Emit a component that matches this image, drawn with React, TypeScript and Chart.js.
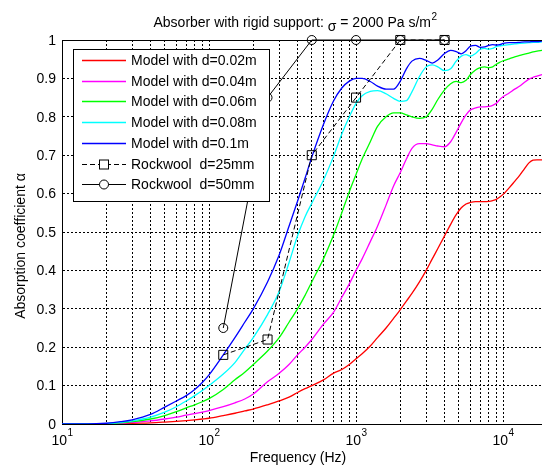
import { useEffect, useRef } from "react";
import { Chart, registerables } from "chart.js";

Chart.register(...registerables);

// ---------- data ----------
const frequencies = [
  10, 12, 15, 20, 25, 30, 40, 50, 60, 70,
  80, 90, 100, 125, 150, 175, 200, 250, 300, 350,
  400, 450, 500, 600, 700, 800, 900, 1000, 1100, 1250,
  1400, 1600, 1800, 2000, 2200, 2400, 2700, 3000, 3300, 3600,
  4000, 4400, 4800, 5200, 5600, 6000, 6500, 7000, 7500, 8000,
  8500, 9000, 9500, 10000, 11000, 12000, 13000, 14000, 15000, 16000,
  17000, 18400,
];

const modelD002 = [
  0, 0, 0, 0, 0.001, 0.002, 0.003, 0.005, 0.007, 0.009,
  0.011, 0.013, 0.015, 0.022, 0.028, 0.034, 0.039, 0.05, 0.06, 0.07,
  0.082, 0.092, 0.1, 0.115, 0.132, 0.142, 0.155, 0.17, 0.183, 0.203,
  0.225, 0.25, 0.275, 0.298, 0.32, 0.34, 0.37, 0.4, 0.43, 0.457,
  0.49, 0.52, 0.545, 0.563, 0.573, 0.577, 0.579, 0.579, 0.579, 0.58,
  0.582, 0.585, 0.591, 0.598, 0.615, 0.632, 0.648, 0.665, 0.68, 0.687,
  0.688, 0.688,
];

const modelD004 = [
  0, 0, 0, 0, 0.002, 0.004, 0.008, 0.013, 0.018, 0.023,
  0.027, 0.031, 0.035, 0.045, 0.055, 0.065, 0.078, 0.11, 0.132, 0.155,
  0.18, 0.2, 0.22, 0.26, 0.29, 0.33, 0.365, 0.4, 0.43, 0.475,
  0.515, 0.57, 0.62, 0.655, 0.69, 0.718, 0.73, 0.73, 0.727, 0.724,
  0.722, 0.735, 0.76, 0.785, 0.805, 0.818, 0.823, 0.826, 0.826, 0.827,
  0.83, 0.835, 0.845, 0.852, 0.862, 0.872, 0.88, 0.89, 0.898, 0.903,
  0.906, 0.91,
];

const modelD006 = [
  0, 0, 0, 0.001, 0.003, 0.006, 0.013, 0.022, 0.032, 0.042,
  0.05, 0.058, 0.066, 0.09, 0.115, 0.135, 0.155, 0.19, 0.225, 0.265,
  0.3, 0.335, 0.37, 0.43, 0.49, 0.55, 0.605, 0.65, 0.69, 0.735,
  0.775, 0.8, 0.81, 0.81, 0.805, 0.8, 0.796, 0.8, 0.82, 0.845,
  0.87, 0.886, 0.892, 0.889, 0.895, 0.91, 0.922, 0.928, 0.93, 0.928,
  0.93, 0.937, 0.942, 0.946, 0.951, 0.956, 0.96, 0.963, 0.966, 0.969,
  0.971, 0.973,
];

const modelD008 = [
  0, 0, 0, 0.001, 0.004, 0.008, 0.018, 0.031, 0.045, 0.06,
  0.074, 0.087, 0.1, 0.13, 0.16, 0.195, 0.225, 0.285, 0.345, 0.42,
  0.49, 0.54, 0.575, 0.635, 0.695, 0.755, 0.8, 0.835, 0.855, 0.866,
  0.868, 0.86, 0.848, 0.84, 0.842, 0.865, 0.905, 0.93, 0.935, 0.93,
  0.92, 0.925, 0.945, 0.958, 0.962, 0.958, 0.965, 0.976, 0.978, 0.976,
  0.978, 0.983, 0.985, 0.986, 0.988, 0.99, 0.991, 0.992, 0.993, 0.994,
  0.994, 0.995,
];

const modelD010 = [
  0, 0, 0, 0.002, 0.006, 0.011, 0.025, 0.044, 0.06, 0.074,
  0.09, 0.108, 0.128, 0.18, 0.225, 0.265, 0.3, 0.37, 0.44, 0.515,
  0.58, 0.64, 0.695, 0.78, 0.84, 0.875, 0.893, 0.9, 0.9, 0.892,
  0.88, 0.872, 0.872, 0.893, 0.925, 0.945, 0.952, 0.947, 0.94, 0.948,
  0.965, 0.973, 0.97, 0.964, 0.972, 0.984, 0.986, 0.981, 0.982, 0.986,
  0.988, 0.987, 0.988, 0.991, 0.993, 0.993, 0.994, 0.995, 0.995, 0.996,
  0.996, 0.997,
];

const rockwoolFreq = [125, 250, 500, 1000, 2000, 4000];
const rockwool25 = [0.18, 0.22, 0.7, 0.85, 1.0, 1.0];
const rockwool50 = [0.25, 0.85, 1.0, 1.0, 1.0, 1.0];

const seriesLabels = [
  "Model with d=0.02m",
  "Model with d=0.04m",
  "Model with d=0.06m",
  "Model with d=0.08m",
  "Model with d=0.1m",
  "Rockwool  d=25mm",
  "Rockwool  d=50mm",
];
const seriesColors = ["#ff0000", "#ff00ff", "#00ff00", "#00ffff", "#0000ff", "#000000", "#000000"];

const yTickValues = [0, 0.1, 0.2, 0.3, 0.4, 0.5, 0.6, 0.7, 0.8, 0.9, 1];
const yTickLabels = ["0", "0.1", "0.2", "0.3", "0.4", "0.5", "0.6", "0.7", "0.8", "0.9", "1"];
const xDecades = [10, 100, 1000, 10000];
const xDecadeExponents = ["1", "2", "3", "4"];
const xMultipliers = [1, 2, 3, 4, 5, 6, 7, 8, 9];

const titleMain = "Absorber with rigid support: ";
const titleSymbol = "σ";
const titleRest = " = 2000 Pa s/m";
const titleSup = "2";
const xTitle = "Frequency (Hz)";
const yTitle = "Absorption coefficient α";

const X_MIN = 10;
const X_MAX = 18400;

const FONT = '"Liberation Sans", Arial, Helvetica, sans-serif';

// ---------- overlay plugin (texts, top border, legend) ----------
const overlayPlugin = {
  id: "overlay",
  beforeDraw(chart: any) {
    const { ctx, width, height } = chart;
    ctx.save();
    ctx.fillStyle = "#ffffff";
    ctx.fillRect(0, 0, width, height);
    ctx.restore();
  },
  afterDraw(chart: any) {
    const { ctx, chartArea: a, scales } = chart;
    const xs = scales.x;
    const ys = scales.y;
    ctx.save();
    ctx.strokeStyle = "#000";
    ctx.lineWidth = 1;
    ctx.setLineDash([]);
    // top border
    const topY = Math.round(a.top) + 0.5;
    ctx.beginPath();
    ctx.moveTo(a.left, topY);
    ctx.lineTo(a.right, topY);
    ctx.stroke();

    ctx.fillStyle = "#000";
    // y tick labels
    ctx.font = `14px ${FONT}`;
    ctx.textAlign = "right";
    ctx.textBaseline = "middle";
    yTickValues.forEach((v, i) => {
      ctx.fillText(yTickLabels[i], a.left - 6, ys.getPixelForValue(v) + 1);
    });

    // x tick labels 10^n
    ctx.textBaseline = "alphabetic";
    ctx.textAlign = "left";
    xDecades.forEach((v, i) => {
      const px = xs.getPixelForValue(v);
      ctx.font = `14px ${FONT}`;
      const wb = ctx.measureText("10").width;
      ctx.font = `10px ${FONT}`;
      const we = ctx.measureText(xDecadeExponents[i]).width;
      const start = px - (wb + we) / 2;
      ctx.font = `14px ${FONT}`;
      ctx.fillText("10", start, a.bottom + 21);
      ctx.font = `10px ${FONT}`;
      ctx.fillText(xDecadeExponents[i], start + wb + 0.5, a.bottom + 12);
    });

    // x title
    ctx.font = `14px ${FONT}`;
    ctx.textAlign = "center";
    ctx.fillText(xTitle, 298, a.bottom + 38);

    // y title
    ctx.save();
    ctx.translate(21, 246);
    ctx.rotate(-Math.PI / 2);
    ctx.textAlign = "center";
    ctx.textBaseline = "middle";
    ctx.fillText(yTitle, 0, 0);
    ctx.restore();

    // title
    ctx.textAlign = "left";
    ctx.textBaseline = "alphabetic";
    ctx.font = `14px ${FONT}`;
    const w1 = ctx.measureText(titleMain).width;
    const w2 = ctx.measureText(titleSymbol).width;
    const w3 = ctx.measureText(titleRest).width;
    ctx.font = `10px ${FONT}`;
    const w4 = ctx.measureText(titleSup).width;
    let tx = 295 - (w1 + w2 + w3 + w4) / 2;
    ctx.font = `14px ${FONT}`;
    ctx.fillText(titleMain, tx, 27);
    tx += w1;
    ctx.fillText(titleSymbol, tx, 31);
    tx += w2;
    ctx.fillText(titleRest, tx, 27);
    tx += w3;
    ctx.font = `10px ${FONT}`;
    ctx.fillText(titleSup, tx + 0.5, 20);

    // legend
    const lx = 73.5, ly = 49.5, lw = 196, lh = 152;
    ctx.fillStyle = "#fff";
    ctx.fillRect(lx, ly, lw, lh);
    ctx.strokeStyle = "#000";
    ctx.lineWidth = 1;
    ctx.strokeRect(lx, ly, lw, lh);
    ctx.font = `14px ${FONT}`;
    ctx.textAlign = "left";
    ctx.textBaseline = "middle";
    seriesLabels.forEach((label, i) => {
      const cy = Math.round(60 + i * 20.7) + 0.5;
      ctx.save();
      ctx.strokeStyle = seriesColors[i];
      ctx.lineWidth = i < 5 ? 1.3 : 1;
      ctx.setLineDash(i === 5 ? [5, 3] : []);
      ctx.beginPath();
      ctx.moveTo(82, cy);
      ctx.lineTo(126, cy);
      ctx.stroke();
      ctx.restore();
      ctx.strokeStyle = "#000";
      ctx.lineWidth = 1;
      if (i === 5) {
        ctx.fillStyle = "#fff";
        ctx.fillRect(99.5, cy - 4.5, 9, 9);
        ctx.strokeRect(99.5, cy - 4.5, 9, 9);
      } else if (i === 6) {
        ctx.fillStyle = "#fff";
        ctx.beginPath();
        ctx.arc(104, cy, 4.5, 0, Math.PI * 2);
        ctx.fill();
        ctx.stroke();
      }
      ctx.fillStyle = "#000";
      ctx.fillText(label, 131, cy + 1);
    });
    ctx.restore();
  },
};

function makeModel(values: number[], idx: number) {
  return {
    label: seriesLabels[idx],
    data: frequencies.map((f, i) => ({ x: f, y: values[i] })),
    borderColor: seriesColors[idx],
    borderWidth: 1.3,
    pointRadius: 0,
    fill: false,
    cubicInterpolationMode: "monotone" as const,
    order: 10 - idx,
  };
}

export default function App() {
  const canvasRef = useRef<HTMLCanvasElement | null>(null);

  useEffect(() => {
    const canvas = canvasRef.current;
    if (!canvas) return;
    const chart = new Chart(canvas, {
      type: "line",
      data: {
        datasets: [
          makeModel(modelD002, 0),
          makeModel(modelD004, 1),
          makeModel(modelD006, 2),
          makeModel(modelD008, 3),
          makeModel(modelD010, 4),
          {
            label: seriesLabels[5],
            data: rockwoolFreq.map((f, i) => ({ x: f, y: rockwool25[i] })),
            borderColor: "#000",
            borderWidth: 1,
            borderDash: [5, 3],
            pointStyle: "rect",
            pointRadius: 6.4,
            pointBorderWidth: 1,
            pointBorderColor: "#000",
            pointBackgroundColor: "rgba(0,0,0,0)",
            fill: false,
            tension: 0,
            clip: false as any,
            order: 4,
          } as any,
          {
            label: seriesLabels[6],
            data: rockwoolFreq.map((f, i) => ({ x: f, y: rockwool50[i] })),
            borderColor: "#000",
            borderWidth: 1,
            pointStyle: "circle",
            pointRadius: 4.5,
            pointBorderWidth: 1,
            pointBorderColor: "#000",
            pointBackgroundColor: "rgba(0,0,0,0)",
            fill: false,
            tension: 0,
            clip: false as any,
            order: 3,
          } as any,
        ],
      },
      options: {
        responsive: false,
        animation: false,
        devicePixelRatio: 1,
        layout: { autoPadding: false, padding: { left: 62, top: 40, right: 0, bottom: 42 } },
        plugins: {
          legend: { display: false },
          title: { display: false },
          tooltip: { enabled: false },
        },
        events: [],
        scales: {
          x: {
            type: "logarithmic",
            min: X_MIN,
            max: X_MAX,
            ticks: { display: false },
            afterBuildTicks: (scale: any) => {
              const t: any[] = [];
              xDecades.forEach((d) =>
                xMultipliers.forEach((m) => {
                  const v = d * m;
                  if (v >= X_MIN && v <= X_MAX) t.push({ value: v });
                })
              );
              scale.ticks = t;
            },
            afterFit: (scale: any) => {
              scale.height = 0;
            },
            grid: { color: "#000", lineWidth: 1, drawTicks: false, tickLength: 0 },
            border: { display: true, color: "#000", width: 1, dash: [2, 2] },
          },
          y: {
            type: "linear",
            min: 0,
            max: 1,
            ticks: { display: false, stepSize: 0.1 },
            afterFit: (scale: any) => {
              scale.width = 0;
            },
            grid: { color: "#000", lineWidth: 1, drawTicks: false, tickLength: 0 },
            border: { display: true, color: "#000", width: 1, dash: [2, 2] },
          },
        },
      } as any,
      plugins: [overlayPlugin],
    });
    return () => chart.destroy();
  }, []);

  return (
    <div style={{ position: "fixed", left: 0, top: 0, width: 542, height: 466, background: "#fff" }}>
      <canvas ref={canvasRef} width={542} height={466} style={{ display: "block" }} />
    </div>
  );
}
